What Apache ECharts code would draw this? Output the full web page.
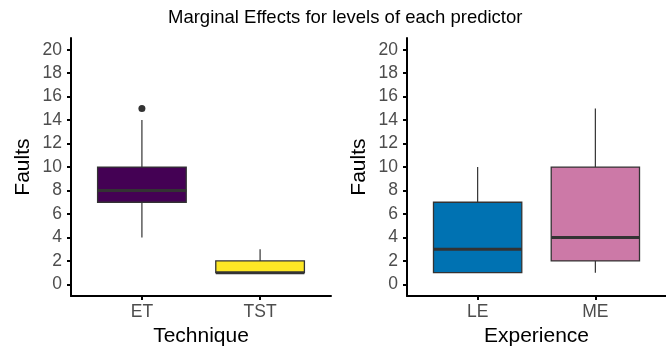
<!DOCTYPE html>
<html>
<head>
<meta charset="utf-8">
<script src="https://cdn.jsdelivr.net/npm/echarts@6/dist/echarts.min.js"></script>
<style>
html,body{margin:0;padding:0;background:#fff;}
#chart{width:666px;height:352px;}
</style>
</head>
<body>
<div id="chart"></div>
<script>
// ---- data ----
const techniqueCats = ['ET', 'TST'];
const techniqueStats = [[4, 7, 8, 10, 14], [1, 1, 1, 2, 3]]; // min, Q1, median, Q3, max
const techniqueOutliers = [[1, 15]]; // [category position, value]
const techniqueColors = ['#440154', '#FDE725'];

const experienceCats = ['LE', 'ME'];
const experienceStats = [[1, 1, 3, 7, 10], [1, 2, 4, 10, 15]];
const experienceOutliers = [];
const experienceColors = ['#0072B2', '#CC79A7'];

const yTicks = [0, 2, 4, 6, 8, 10, 12, 14, 16, 18, 20];
const xTickPositions = [1, 2];

// ---- chart ----
const chart = echarts.init(document.getElementById('chart'), null, {renderer: 'canvas'});
const FONT = 'Liberation Sans, Arial, Helvetica, sans-serif';

function makeRender(colors) {
  return function (params, api) {
    const x = api.value(0);
    const lo = api.coord([x, api.value(1)]);
    const q1 = api.coord([x, api.value(2)]);
    const med = api.coord([x, api.value(3)]);
    const q3 = api.coord([x, api.value(4)]);
    const hi = api.coord([x, api.value(5)]);
    const half = api.size([0.75, 0])[0] / 2;
    const cx = med[0];
    const lineStyle = {stroke: '#333333', lineWidth: 1.2};
    return {
      type: 'group',
      children: [
        {type: 'line', shape: {x1: cx, y1: lo[1], x2: cx, y2: q1[1]}, style: lineStyle},
        {type: 'line', shape: {x1: cx, y1: q3[1], x2: cx, y2: hi[1]}, style: lineStyle},
        {type: 'rect', shape: {x: cx - half, y: q3[1], width: half * 2, height: q1[1] - q3[1]},
          style: {fill: colors[params.dataIndex], stroke: '#333333', lineWidth: 1.3}},
        {type: 'line', shape: {x1: cx - half, y1: med[1], x2: cx + half, y2: med[1]},
          style: {stroke: '#333333', lineWidth: 3}}
      ]
    };
  };
}

function xAxisFor(idx, cats, name) {
  return {
    type: 'value', gridIndex: idx, min: 0.4, max: 2.6,
    name: name, nameLocation: 'middle', nameGap: 29,
    nameTextStyle: {fontSize: 21, color: '#000', fontFamily: FONT},
    axisLine: {show: true, onZero: false, lineStyle: {color: '#000', width: 2}},
    axisTick: {show: true, length: 4, customValues: xTickPositions, lineStyle: {color: '#000', width: 2}},
    axisLabel: {customValues: xTickPositions, fontSize: 17.5, color: '#4D4D4D', fontFamily: FONT, margin: 7,
      formatter: function (v) { return cats[Math.round(v) - 1]; }},
    splitLine: {show: false}
  };
}

function yAxisFor(idx) {
  return {
    type: 'value', gridIndex: idx, min: -1, max: 21,
    name: 'Faults', nameLocation: 'middle', nameGap: 37,
    nameTextStyle: {fontSize: 21, color: '#000', fontFamily: FONT},
    axisLine: {show: true, onZero: false, lineStyle: {color: '#000', width: 2}},
    axisTick: {show: true, length: 4, customValues: yTicks, lineStyle: {color: '#000', width: 2}},
    axisLabel: {customValues: yTicks, fontSize: 17.5, color: '#4D4D4D', fontFamily: FONT, margin: 9},
    splitLine: {show: false}
  };
}

const option = {
  animation: false,
  backgroundColor: '#fff',
  title: {
    text: 'Marginal Effects for levels of each predictor',
    left: 163, top: 3,
    textStyle: {fontSize: 18.5, fontWeight: 'normal', color: '#000', fontFamily: FONT}
  },
  grid: [
    {left: 71, top: 38, width: 260, height: 259},
    {left: 407, top: 38, width: 259, height: 259}
  ],
  xAxis: [xAxisFor(0, techniqueCats, 'Technique'), xAxisFor(1, experienceCats, 'Experience')],
  yAxis: [yAxisFor(0), yAxisFor(1)],
  series: [
    {type: 'custom', xAxisIndex: 0, yAxisIndex: 0, renderItem: makeRender(techniqueColors),
      encode: {x: 0, y: [1, 2, 3, 4, 5]},
      data: techniqueStats.map(function (s, i) { return [i + 1].concat(s); })},
    {type: 'scatter', xAxisIndex: 0, yAxisIndex: 0, symbolSize: 7,
      itemStyle: {color: '#333333', opacity: 1}, data: techniqueOutliers},
    {type: 'custom', xAxisIndex: 1, yAxisIndex: 1, renderItem: makeRender(experienceColors),
      encode: {x: 0, y: [1, 2, 3, 4, 5]},
      data: experienceStats.map(function (s, i) { return [i + 1].concat(s); })},
    {type: 'scatter', xAxisIndex: 1, yAxisIndex: 1, symbolSize: 7,
      itemStyle: {color: '#333333', opacity: 1}, data: experienceOutliers}
  ]
};
chart.setOption(option);
</script>
</body>
</html>
